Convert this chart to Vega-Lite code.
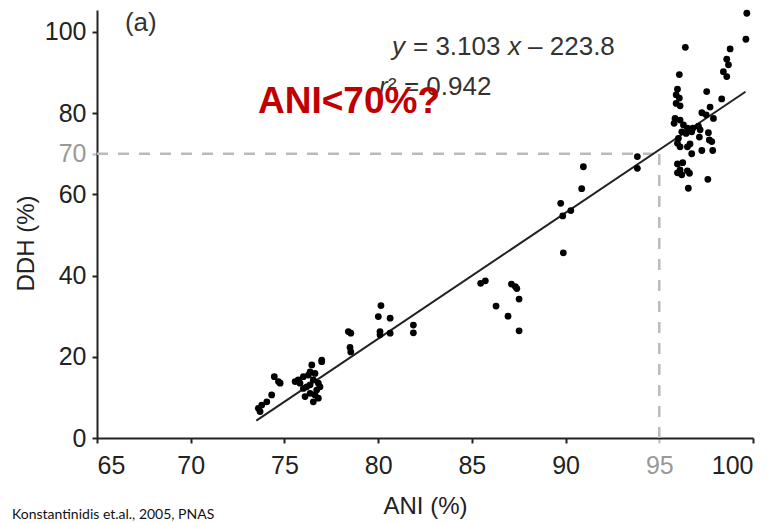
{
  "$schema": "https://vega.github.io/schema/vega-lite/v6.json",
  "width": 656,
  "height": 428,
  "autosize": {"type": "none"},
  "padding": {"left": 97, "top": 10, "right": 28, "bottom": 85},
  "background": "white",
  "config": {
    "view": {"stroke": null},
    "font": "Liberation Sans",
    "axis": {
      "grid": false,
      "domainColor": "#222",
      "domainWidth": 2,
      "tickColor": "#222",
      "tickWidth": 2,
      "tickSize": 5,
      "labelFont": "Liberation Sans",
      "labelFontSize": 25,
      "labelColor": "#222",
      "titleFont": "Liberation Sans",
      "titleFontSize": 24,
      "titleFontWeight": "normal",
      "titleColor": "#222"
    }
  },
  "title": {
    "text": "Konstantinidis et.al., 2005, PNAS",
    "orient": "bottom",
    "anchor": "start",
    "frame": "group",
    "font": "Lato",
    "fontSize": 14,
    "fontWeight": "normal",
    "color": "#111",
    "offset": 0,
    "dx": -85,
    "dy": -10
  },
  "datasets": {
    "points": [
      {"ani": 99.67, "ddh": 104.6}, {"ani": 99.62, "ddh": 98.2}, {"ani": 96.39, "ddh": 96.2}, {"ani": 98.78, "ddh": 95.8},
      {"ani": 98.60, "ddh": 93.3}, {"ani": 98.69, "ddh": 91.9}, {"ani": 98.42, "ddh": 90.2}, {"ani": 98.60, "ddh": 89.0},
      {"ani": 96.07, "ddh": 89.5}, {"ani": 97.53, "ddh": 85.3}, {"ani": 95.97, "ddh": 85.9}, {"ani": 95.90, "ddh": 84.5},
      {"ani": 96.07, "ddh": 83.7}, {"ani": 95.90, "ddh": 82.4}, {"ani": 96.11, "ddh": 81.8}, {"ani": 98.33, "ddh": 83.5},
      {"ani": 97.71, "ddh": 81.5}, {"ani": 97.27, "ddh": 80.1}, {"ani": 97.50, "ddh": 79.6}, {"ani": 97.89, "ddh": 78.7},
      {"ani": 95.84, "ddh": 78.7}, {"ani": 96.11, "ddh": 78.3}, {"ani": 95.79, "ddh": 77.5}, {"ani": 96.29, "ddh": 77.1},
      {"ani": 96.50, "ddh": 76.3}, {"ani": 96.79, "ddh": 76.3}, {"ani": 97.09, "ddh": 76.8}, {"ani": 97.18, "ddh": 75.9},
      {"ani": 96.20, "ddh": 75.4}, {"ani": 96.43, "ddh": 75.0}, {"ani": 96.73, "ddh": 75.4}, {"ani": 97.62, "ddh": 75.2},
      {"ani": 97.14, "ddh": 74.1}, {"ani": 96.02, "ddh": 73.8}, {"ani": 95.97, "ddh": 72.6}, {"ani": 97.67, "ddh": 73.4},
      {"ani": 96.64, "ddh": 72.4}, {"ani": 96.11, "ddh": 71.7}, {"ani": 97.80, "ddh": 73.0}, {"ani": 97.27, "ddh": 70.8},
      {"ani": 97.85, "ddh": 70.8}, {"ani": 96.73, "ddh": 70.0}, {"ani": 96.50, "ddh": 71.7}, {"ani": 93.83, "ddh": 69.3},
      {"ani": 93.83, "ddh": 66.4}, {"ani": 95.97, "ddh": 67.5}, {"ani": 96.25, "ddh": 67.8}, {"ani": 95.97, "ddh": 65.3},
      {"ani": 96.50, "ddh": 65.8}, {"ani": 96.20, "ddh": 64.8}, {"ani": 96.61, "ddh": 65.2}, {"ani": 97.59, "ddh": 63.7},
      {"ani": 96.55, "ddh": 61.5}, {"ani": 96.11, "ddh": 66.0},
      {"ani": 90.95, "ddh": 66.8}, {"ani": 90.86, "ddh": 61.4}, {"ani": 89.74, "ddh": 57.8}, {"ani": 89.85, "ddh": 54.7},
      {"ani": 90.28, "ddh": 56.0}, {"ani": 89.88, "ddh": 45.6},
      {"ani": 85.47, "ddh": 38.1}, {"ani": 85.72, "ddh": 38.7}, {"ani": 86.29, "ddh": 32.5}, {"ani": 86.93, "ddh": 30.0},
      {"ani": 87.11, "ddh": 37.9}, {"ani": 87.32, "ddh": 37.3}, {"ani": 87.40, "ddh": 36.8}, {"ani": 87.52, "ddh": 34.2},
      {"ani": 87.52, "ddh": 26.4},
      {"ani": 80.15, "ddh": 32.6}, {"ani": 80.01, "ddh": 29.9}, {"ani": 80.64, "ddh": 29.5}, {"ani": 80.10, "ddh": 26.2},
      {"ani": 80.10, "ddh": 25.4}, {"ani": 80.64, "ddh": 25.8}, {"ani": 78.41, "ddh": 26.2}, {"ani": 78.54, "ddh": 25.8},
      {"ani": 78.50, "ddh": 22.3}, {"ani": 78.54, "ddh": 21.2}, {"ani": 81.88, "ddh": 27.8}, {"ani": 81.88, "ddh": 25.9},
      {"ani": 73.70, "ddh": 6.5}, {"ani": 73.61, "ddh": 7.3}, {"ani": 73.79, "ddh": 8.1}, {"ani": 74.06, "ddh": 8.9},
      {"ani": 74.32, "ddh": 10.6}, {"ani": 74.46, "ddh": 15.1}, {"ani": 74.68, "ddh": 13.9}, {"ani": 74.77, "ddh": 13.5},
      {"ani": 75.57, "ddh": 13.9}, {"ani": 75.74, "ddh": 14.3}, {"ani": 76.01, "ddh": 15.1}, {"ani": 76.46, "ddh": 18.0},
      {"ani": 76.99, "ddh": 19.2}, {"ani": 76.63, "ddh": 15.9}, {"ani": 76.19, "ddh": 12.6}, {"ani": 76.37, "ddh": 11.0},
      {"ani": 76.10, "ddh": 10.2}, {"ani": 76.54, "ddh": 8.9}, {"ani": 76.72, "ddh": 11.8}, {"ani": 76.81, "ddh": 13.5},
      {"ani": 76.54, "ddh": 14.3}, {"ani": 76.37, "ddh": 13.1}, {"ani": 76.01, "ddh": 12.2}, {"ani": 75.83, "ddh": 13.5},
      {"ani": 76.90, "ddh": 12.6}, {"ani": 76.63, "ddh": 10.6}, {"ani": 76.28, "ddh": 15.5}, {"ani": 76.99, "ddh": 18.8},
      {"ani": 76.37, "ddh": 16.3}, {"ani": 76.81, "ddh": 9.8}
    ],
    "fit": [
      {"ani": 73.5, "ddh": 4.27},
      {"ani": 99.6, "ddh": 85.26}
    ],
    "refs": [
      {"ani": 65, "ani2": 95, "ddh": 70, "ddh2": 70},
      {"ani": 95, "ani2": 95, "ddh": 0, "ddh2": 70}
    ],
    "plainText": [
      {"ani": 66.49, "ddh": 100.2, "label": "(a)"},
      {"ani": 81.86, "ddh": 94.3, "label": "= 3.103"},
      {"ani": 88.0, "ddh": 94.3, "label": "– 223.8"},
      {"ani": 80.53, "ddh": 84.5, "label": "² = 0.942"}
    ],
    "italicText": [
      {"ani": 80.74, "ddh": 94.3, "label": "y"},
      {"ani": 86.93, "ddh": 94.3, "label": "x"},
      {"ani": 80.05, "ddh": 84.5, "label": "r"}
    ],
    "question": [
      {"ani": 73.59, "ddh": 80.0, "label": "ANI<70%?"}
    ]
  },
  "encoding": {
    "x": {
      "field": "ani",
      "type": "quantitative",
      "title": "ANI (%)",
      "scale": {"domain": [65, 100], "nice": false, "zero": false},
      "axis": {
        "values": [65, 70, 75, 80, 85, 90, 95, 100],
        "labelPadding": 10,
        "titlePadding": 16,
        "labelColor": {"condition": {"test": "datum.value === 95", "value": "#999"}, "value": "#222"},
        "tickColor": {"condition": {"test": "datum.value === 95", "value": "#bbb"}, "value": "#222"}
      }
    },
    "y": {
      "field": "ddh",
      "type": "quantitative",
      "title": "DDH (%)",
      "scale": {"domain": [0, 105.4], "nice": false, "zero": false},
      "axis": {
        "values": [0, 20, 40, 60, 70, 80, 100],
        "labelPadding": 6,
        "titlePadding": 6,
        "titleY": 233,
        "labelColor": {"condition": {"test": "datum.value === 70", "value": "#999"}, "value": "#222"},
        "tickColor": {"condition": {"test": "datum.value === 70", "value": "#bbb"}, "value": "#222"}
      }
    }
  },
  "layer": [
    {
      "data": {"name": "refs"},
      "mark": {"type": "rule", "color": "#bbb", "strokeWidth": 2.5, "strokeDash": [11, 10]},
      "encoding": {
        "x2": {"field": "ani2"},
        "y2": {"field": "ddh2"}
      }
    },
    {
      "data": {"name": "fit"},
      "mark": {"type": "line", "color": "#222", "strokeWidth": 2}
    },
    {
      "data": {"name": "points"},
      "mark": {"type": "circle", "color": "#000", "opacity": 1, "size": 46}
    },
    {
      "data": {"name": "plainText"},
      "mark": {"type": "text", "align": "left", "baseline": "alphabetic", "fontSize": 26, "color": "#333", "font": "Liberation Sans"},
      "encoding": {"text": {"field": "label"}}
    },
    {
      "data": {"name": "italicText"},
      "mark": {"type": "text", "align": "left", "baseline": "alphabetic", "fontSize": 26, "fontStyle": "italic", "color": "#333", "font": "Liberation Sans"},
      "encoding": {"text": {"field": "label"}}
    },
    {
      "data": {"name": "question"},
      "mark": {"type": "text", "align": "left", "baseline": "alphabetic", "fontSize": 37, "fontWeight": "bold", "color": "#C00000", "font": "Liberation Sans"},
      "encoding": {"text": {"field": "label"}}
    }
  ]
}
